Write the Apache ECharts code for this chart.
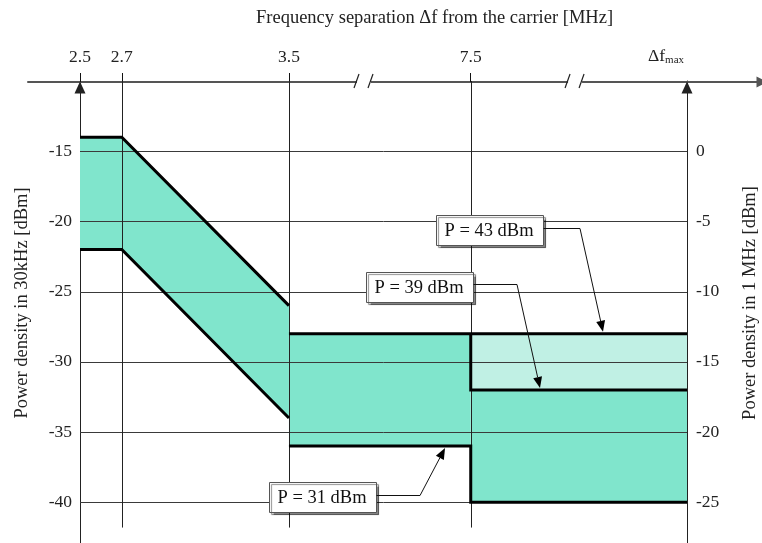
<!DOCTYPE html>
<html>
<head>
<meta charset="utf-8">
<script src="https://cdn.jsdelivr.net/npm/echarts@6/dist/echarts.min.js"></script>
<style>
html, body { margin: 0; padding: 0; background: #fff; }
#chart { width: 762px; height: 543px; }
</style>
</head>
<body>
<div id="chart"></div>
<script>
// broken frequency axis: tick frequencies and where each one sits on the axis
var freqTicks = [2.5, 2.7, 3.5, 7.5, 'fmax'];
var tickText = ['2.5', '2.7', '3.5', '7.5', '{d|Δf}{s|max}{p|}'];
var tickPos = [0, 0.2, 1, 1.87, 2.905];
var breakPos = [1.364, 2.374]; // the "//" marks

var leftTicks = [-40, -35, -30, -25, -20, -15];   // dBm / 30 kHz
var rightTicks = [-25, -20, -15, -10, -5, 0];     // dBm / 1 MHz
var densityShift = 15;                            // 30 kHz -> 1 MHz

// mask limit lines, [freq, dBm in 30 kHz]
var upper43a = [[2.5, -14], [2.7, -14], [3.5, -26]];
var upper43b = [[3.5, -28], [7.5, -28], ['fmax', -28]];
var step39 = [[7.5, -28], [7.5, -32], ['fmax', -32]];
var lower31a = [[2.5, -22], [2.7, -22], [3.5, -34]];
var lower31b = [[3.5, -36], [7.5, -36], [7.5, -40], ['fmax', -40]];

// shaded areas between the limits
var bandDark = [
    [[2.5, -14], [2.7, -14], [3.5, -26], [3.5, -34], [2.7, -22], [2.5, -22]],
    [[3.5, -28], [7.5, -28], [7.5, -36], [3.5, -36]],
    [[7.5, -32], ['fmax', -32], ['fmax', -40], [7.5, -40]]
];
var bandLight = [
    [[7.5, -28], ['fmax', -28], ['fmax', -32], [7.5, -32]]
];

var noteText = ['P = 43 dBm', 'P = 39 dBm', 'P = 31 dBm'];
var noteLevel = [-28, -32, -36];
// where the arrow hits the line, box centre and elbow relative to it (px)
var noteLayout = [
    {at: 2.503, box: [-114, -104], elbow: [-23, -106]},
    {at: 2.2015, box: [-121, -103], elbow: [-23, -106]},
    {at: 1.747, box: [-123, 51], elbow: [-25, 49]}
];

var W = 762, plotL = 80, plotR = 75, axL = 28, topY = 81;
var yMin = -42.9, yMax = -10, vBottom = -41.8;
var unit = (W - plotL - plotR) / (tickPos[4] - tickPos[0]);
var FONT = '"Liberation Serif", "Times New Roman", serif';

function xp(f) {
    return tickPos[freqTicks.indexOf(f)];
}
function toXY(pts) {
    return pts.map(function (p) { return [xp(p[0]), p[1]]; });
}

function bandSeries(list, color) {
    return {
        type: 'custom', xAxisIndex: 1, yAxisIndex: 1, z: 1, silent: true,
        data: list.map(function (poly) { return [xp(poly[0][0]), poly[0][1]]; }),
        renderItem: function (params, api) {
            var pts = list[params.dataIndex].map(function (p) {
                return api.coord([xp(p[0]), p[1]]);
            });
            return {type: 'polygon', shape: {points: pts}, style: {fill: color}};
        }
    };
}

var chart = echarts.init(document.getElementById('chart'));

var option = {
    animation: false,
    backgroundColor: '#fff',
    title: {
        text: 'Frequency separation Δf from the carrier [MHz]',
        left: 256, top: 9, padding: 0,
        textStyle: {fontFamily: FONT, fontSize: 18.5, fontWeight: 'normal', color: '#222'}
    },
    grid: [
        {left: axL, right: 0, top: topY, height: 1, containLabel: false, outerBoundsMode: 'none'},
        {left: plotL, right: plotR, top: topY, bottom: 0, containLabel: false, outerBoundsMode: 'none'}
    ],
    xAxis: [{
        gridIndex: 0, type: 'value', position: 'top',
        min: tickPos[0] - (plotL - axL) / unit,
        max: tickPos[4] + plotR / unit,
        axisLine: {
            show: true, symbol: ['none', 'triangle'], symbolSize: [11, 11],
            lineStyle: {color: '#555', width: 2}
        },
        axisTick: {show: true, customValues: tickPos.slice(0, 4), length: 9, lineStyle: {color: '#111'}},
        axisLabel: {
            customValues: tickPos, margin: 15, color: '#222', fontFamily: FONT, fontSize: 17.5,
            formatter: function (v) { return tickText[tickPos.indexOf(v)] || ''; },
            rich: {
                d: {fontFamily: FONT, fontSize: 17.5, color: '#222'},
                s: {fontFamily: FONT, fontSize: 11, color: '#222', verticalAlign: 'bottom', padding: [8, 0, 0, 0]},
                p: {width: 42}
            }
        },
        splitLine: {show: false}
    }, {
        gridIndex: 1, type: 'value', min: tickPos[0], max: tickPos[4], show: false
    }],
    yAxis: [{
        gridIndex: 0, type: 'value', min: 0, max: 1, show: false
    }, {
        gridIndex: 1, type: 'value', position: 'left', min: yMin, max: yMax,
        name: 'Power density in 30kHz [dBm]', nameLocation: 'middle', nameGap: 48,
        nameTextStyle: {fontFamily: FONT, fontSize: 18.5, color: '#222', padding: [0, 0, 0, 18]},
        axisLine: {
            show: true, symbol: ['none', 'triangle'], symbolSize: [11, 12], symbolOffset: [0, -6.5],
            lineStyle: {color: '#222', width: 1}
        },
        axisTick: {show: false},
        axisLabel: {customValues: leftTicks, margin: 8, color: '#222', fontFamily: FONT, fontSize: 17.5},
        splitLine: {show: false}
    }, {
        gridIndex: 1, type: 'value', position: 'right',
        min: yMin + densityShift, max: yMax + densityShift,
        name: 'Power density in 1 MHz [dBm]', nameLocation: 'middle', nameGap: 54,
        nameTextStyle: {fontFamily: FONT, fontSize: 18.5, color: '#222', padding: [0, 0, 0, 18]},
        axisLine: {
            show: true, symbol: ['none', 'triangle'], symbolSize: [11, 12], symbolOffset: [0, -6.5],
            lineStyle: {color: '#222', width: 1}
        },
        axisTick: {show: false},
        axisLabel: {customValues: rightTicks, margin: 9, color: '#222', fontFamily: FONT, fontSize: 17.5},
        splitLine: {show: false}
    }],
    series: [
        bandSeries(bandDark, '#80E5CC'),
        bandSeries(bandLight, '#C0F0E4'),
        {
            // horizontal grid lines
            type: 'custom', xAxisIndex: 1, yAxisIndex: 1, z: 3, silent: true,
            data: leftTicks.map(function (v) { return [xp(2.5), v]; }),
            renderItem: function (params, api) {
                var v = leftTicks[params.dataIndex];
                var a = api.coord([xp(2.5), v]), b = api.coord([xp('fmax'), v]);
                var y = Math.round(a[1]) + 0.5;
                return {type: 'line', shape: {x1: a[0], y1: y, x2: b[0], y2: y},
                    style: {stroke: '#3a3a3a', lineWidth: 1}};
            }
        },
        {
            // vertical lines at the inner ticks
            type: 'custom', xAxisIndex: 1, yAxisIndex: 1, z: 3, silent: true,
            data: tickPos.slice(1, 4).map(function (p) { return [p, yMax]; }),
            renderItem: function (params, api) {
                var p = tickPos[params.dataIndex + 1];
                var a = api.coord([p, yMax]), b = api.coord([p, vBottom]);
                var x = Math.round(a[0]) + 0.5;
                return {type: 'line', shape: {x1: x, y1: a[1], x2: x, y2: b[1]},
                    style: {stroke: '#222', lineWidth: 1}};
            }
        },
        {
            type: 'lines', coordinateSystem: 'cartesian2d', xAxisIndex: 1, yAxisIndex: 1,
            polyline: true, z: 5, silent: true,
            lineStyle: {color: '#000', width: 3, opacity: 1},
            data: [upper43a, upper43b, step39, lower31a, lower31b].map(function (l) {
                return {coords: toXY(l)};
            })
        },
        {
            // broken-axis marks on the frequency axis
            type: 'custom', xAxisIndex: 1, yAxisIndex: 1, z: 6, silent: true,
            data: breakPos.map(function (b) { return [b, yMax]; }),
            renderItem: function (params, api) {
                var c = api.coord([breakPos[params.dataIndex], yMax]);
                var x = c[0], y = c[1];
                return {type: 'group', children: [
                    {type: 'rect', shape: {x: x - 8, y: y - 3, width: 14, height: 6}, style: {fill: '#fff'}},
                    {type: 'line', shape: {x1: x - 11, y1: y + 7, x2: x - 6, y2: y - 7},
                        style: {stroke: '#222', lineWidth: 1.2}},
                    {type: 'line', shape: {x1: x + 3, y1: y + 7, x2: x + 8, y2: y - 7},
                        style: {stroke: '#222', lineWidth: 1.2}}
                ]};
            }
        },
        {
            // P = ... call-outs
            type: 'custom', xAxisIndex: 1, yAxisIndex: 1, z: 7, silent: true,
            data: noteLevel.map(function (v, i) { return [noteLayout[i].at, v]; }),
            renderItem: function (params, api) {
                var i = params.dataIndex, L = noteLayout[i];
                var t = api.coord([L.at, noteLevel[i]]);
                var cx = t[0] + L.box[0], cy = t[1] + L.box[1];
                var ex = t[0] + L.elbow[0], ey = t[1] + L.elbow[1];
                var bw = 107, bh = 30;
                var tipX = t[0], tipY = t[1] + (t[1] > ey ? -2 : 2);
                var dx = tipX - ex, dy = tipY - ey, len = Math.sqrt(dx * dx + dy * dy);
                var ux = dx / len, uy = dy / len, hl = 11, hw = 4.5;
                var bx = tipX - ux * hl, by = tipY - uy * hl;
                var rx = Math.round(cx - bw / 2) + 0.5, ry = Math.round(cy - bh / 2) + 0.5;
                return {type: 'group', children: [
                    {type: 'rect', shape: {x: rx, y: ry, width: bw, height: bh},
                        style: {fill: '#fff', stroke: '#555', lineWidth: 1,
                            shadowColor: 'rgba(0,0,0,0.45)', shadowOffsetX: 2, shadowOffsetY: 2, shadowBlur: 1}},
                    {type: 'text', style: {text: noteText[i], x: cx, y: cy + 1, align: 'center', verticalAlign: 'middle',
                        textAlign: 'center', textVerticalAlign: 'middle',
                        fontFamily: FONT, fontSize: 18.5, fill: '#111'}},
                    {type: 'polyline', shape: {points: [[rx + bw, Math.round(ey) + 0.5], [ex, Math.round(ey) + 0.5], [bx, by]]},
                        style: {stroke: '#111', lineWidth: 1, fill: null}},
                    {type: 'polygon', shape: {points: [[tipX, tipY], [bx - uy * hw, by + ux * hw], [bx + uy * hw, by - ux * hw]]},
                        style: {fill: '#000'}}
                ]};
            }
        }
    ]
};

chart.setOption(option);
</script>
</body>
</html>
